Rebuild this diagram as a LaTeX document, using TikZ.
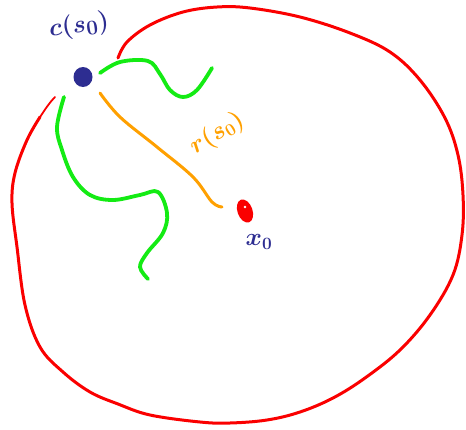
\documentclass[tikz,border=0pt]{standalone}
\usepackage{fontspec}
\definecolor{pred}{RGB}{250,0,0}
\definecolor{pgreen}{RGB}{20,235,20}
\definecolor{porange}{RGB}{255,160,0}
\definecolor{pblue}{RGB}{45,45,145}
\begin{document}
\begin{tikzpicture}[x=1pt,y=-1pt,
  redline/.style={draw=pred,line width=3pt,line cap=round,line join=round},
  greenline/.style={draw=pgreen,line width=3.8pt,line cap=round,line join=round},
  orangeline/.style={draw=porange,line width=3pt,line cap=round,line join=round},
  bluelabel/.style={text=pblue,font=\fontsize{29}{31}\selectfont\boldmath},
  orangelabel/.style={text=porange,font=\fontsize{25}{27}\selectfont\boldmath}]
\useasboundingbox (0,0) rectangle (466,429);
% dots
\fill[pblue] (83,77) circle[x radius=9.5,y radius=10];
\coordinate (c) at (83,77);
\fill[pred,rotate around={20:(245,211)}] (245,211) ellipse[x radius=7.5,y radius=12];
\coordinate (x0) at (245,211);
\fill[white] (245,207) circle[radius=1.3];
% labels
\node[bluelabel,rotate=8] (clab) at (79,26) {$c(s_0)$};
\node[orangelabel,rotate=32] (rlab) at (217,134) {$r(s_0)$};
\node[bluelabel,font=\fontsize{25}{27}\selectfont\boldmath] (xlab) at (259,242) {$x_0$};
% outer red curve
\coordinate (rs) at (118,58);
\coordinate (re) at (55,97);
\draw[redline] plot[smooth,tension=0.6] coordinates {(rs) (127,42) (150,25) (183,12) (217,7) (250,8) (300,17) (350,33) (390,52) (420,80) (445,118) (458,155) (463,195) (462,235) (453,275) (430,315) (400,350) (365,378) (333,398) (300,412) (267,420) (230,423) (200,422) (150,415) (118,404) (90,392) (63,372) (40,347) (25,305) (17,247) (12,203) (15,173) (27,140) (40,117)};
\draw[redline,line width=1.8pt] (40,117) .. controls (46,108) and (50,102) .. (re);
% green curves
\coordinate (g1s) at (100,73);
\coordinate (g1e) at (212,68);
\draw[greenline] plot[smooth,tension=0.6] coordinates {(g1s) (120,62) (148,61) (160,74) (170,90) (183,97) (197,90) (g1e)};
\coordinate (g2s) at (64,97);
\coordinate (g2e) at (148,279);
\draw[greenline] plot[smooth,tension=0.6] coordinates {(g2s) (57,127) (62,150) (73,177) (90,195) (113,200) (140,195) (158,192) (167,213) (163,233) (147,253) (140,267) (g2e)};
% orange radius
\coordinate (os) at (100,93);
\coordinate (oe) at (222,207);
\draw[orangeline] plot[smooth,tension=0.6] coordinates {(os) (120,117) (157,147) (193,177) (212,202) (oe)};
\end{tikzpicture}
\end{document}
